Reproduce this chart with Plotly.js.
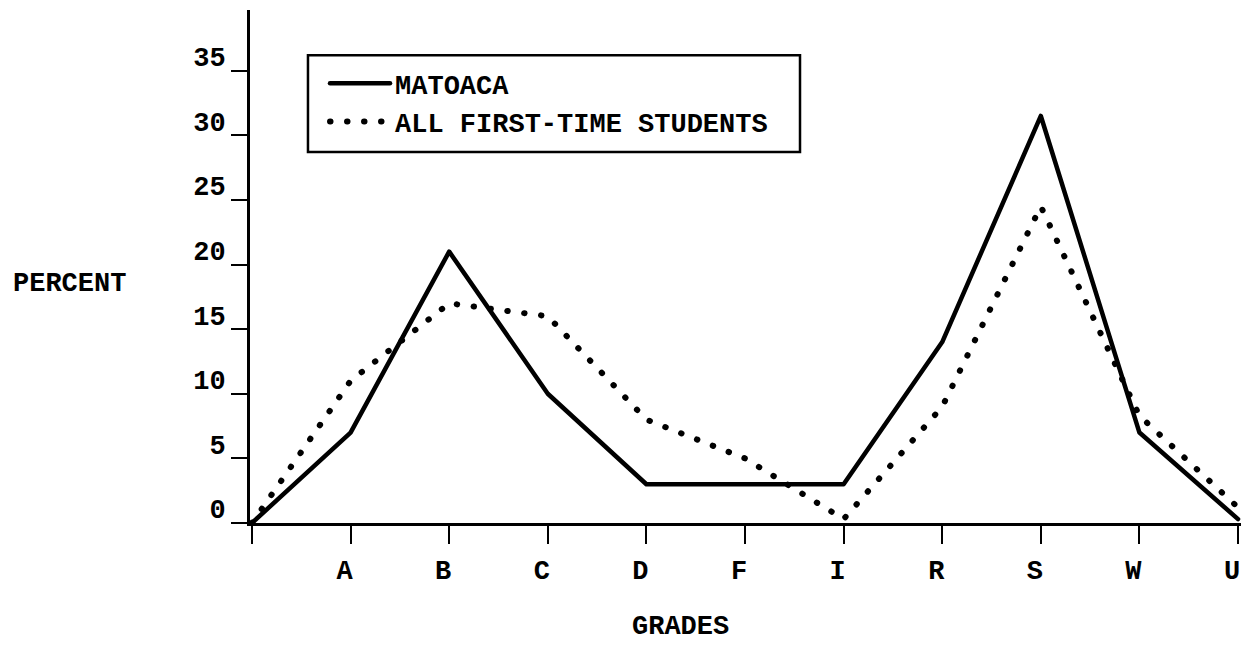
<!DOCTYPE html>
<html>
<head>
<meta charset="utf-8">
<script src="https://cdn.plot.ly/plotly-3.0.1.min.js"></script>
<style>
  html, body { margin: 0; padding: 0; background: #fff; }
  #chart { width: 1241px; height: 645px; }
  #chart .js-line { stroke-linecap: round; stroke-linejoin: round; }
</style>
</head>
<body>
<div id="chart"></div>
<script>
// Grade categories (first entry is the unlabeled origin)
var grades = [' ', 'A', 'B', 'C', 'D', 'F', 'I', 'R', 'S', 'W', 'U'];
// Percent of students receiving each grade
var matoaca = [0, 7, 21, 10, 3, 3, 3, 14, 31.5, 7, 0.3];
var allFirstTime = [0, 11, 17, 16, 8, 5, 0.3, 9, 24.5, 8.3, 1.2];
// Axis labels
var yTicks = [0, 5, 10, 15, 20, 25, 30, 35];
var seriesNames = ['MATOACA', 'ALL FIRST-TIME STUDENTS'];

var FONT = 'Liberation Mono, Courier New, monospace';
var SZ = 27;
function f() { return { family: FONT, size: SZ, color: '#000', weight: 'bold' }; }

var traces = [
  {
    x: grades, y: matoaca, name: seriesNames[0],
    type: 'scatter', mode: 'lines', cliponaxis: false,
    line: { color: '#000', width: 4.5 }
  },
  {
    x: grades, y: allFirstTime, name: seriesNames[1],
    type: 'scatter', mode: 'lines', cliponaxis: false,
    line: { color: '#000', width: 6, dash: '0.5px,16.5px' }
  }
];

var layout = {
  width: 1241, height: 645,
  margin: { l: 250, r: 0, t: 10, b: 122 },
  paper_bgcolor: '#fff', plot_bgcolor: '#fff',
  font: f(),
  showlegend: true,
  legend: {
    x: 0.0757, y: 0.904, xanchor: 'left', yanchor: 'top',
    borderwidth: 0, bgcolor: 'rgba(0,0,0,0)',
    font: f(),
    itemwidth: 60, tracegroupgap: 0
  },
  shapes: [
    { type: 'rect', xref: 'paper', yref: 'paper',
      x0: 0.0585, x1: 0.555, y0: 0.723, y1: 0.912,
      line: { color: '#000', width: 2.5 }, fillcolor: 'rgba(0,0,0,0)' }
  ],
  xaxis: {
    type: 'category',
    categoryorder: 'array', categoryarray: grades,
    range: [-0.02, 10.03],
    showgrid: false, zeroline: false,
    showline: true, linecolor: '#000', linewidth: 3,
    ticks: 'outside', ticklen: 18, tickwidth: 2, tickcolor: '#000',
    ticklabelshift: -6, ticklabelstandoff: 3,
    tickfont: f(),
    fixedrange: true
  },
  yaxis: {
    range: [0, 39.7],
    tickvals: yTicks, ticktext: yTicks.map(String),
    showgrid: false, zeroline: false,
    showline: true, linecolor: '#000', linewidth: 3,
    ticks: 'outside', ticklen: 16, tickwidth: 2, tickcolor: '#000',
    ticklabelshift: -14, ticklabelstandoff: 0,
    tickfont: f(),
    fixedrange: true
  },
  annotations: [
    {
      text: 'PERCENT', xref: 'paper', yref: 'paper',
      x: -0.241, y: 0.465, xanchor: 'left', yanchor: 'middle',
      showarrow: false, font: f()
    },
    {
      text: 'GRADES', xref: 'paper', yref: 'paper',
      x: 0.434, y: -0.2355, xanchor: 'center', yanchor: 'bottom',
      showarrow: false, font: f()
    }
  ]
};

Plotly.newPlot('chart', traces, layout, { displayModeBar: false, staticPlot: true });
</script>
</body>
</html>
